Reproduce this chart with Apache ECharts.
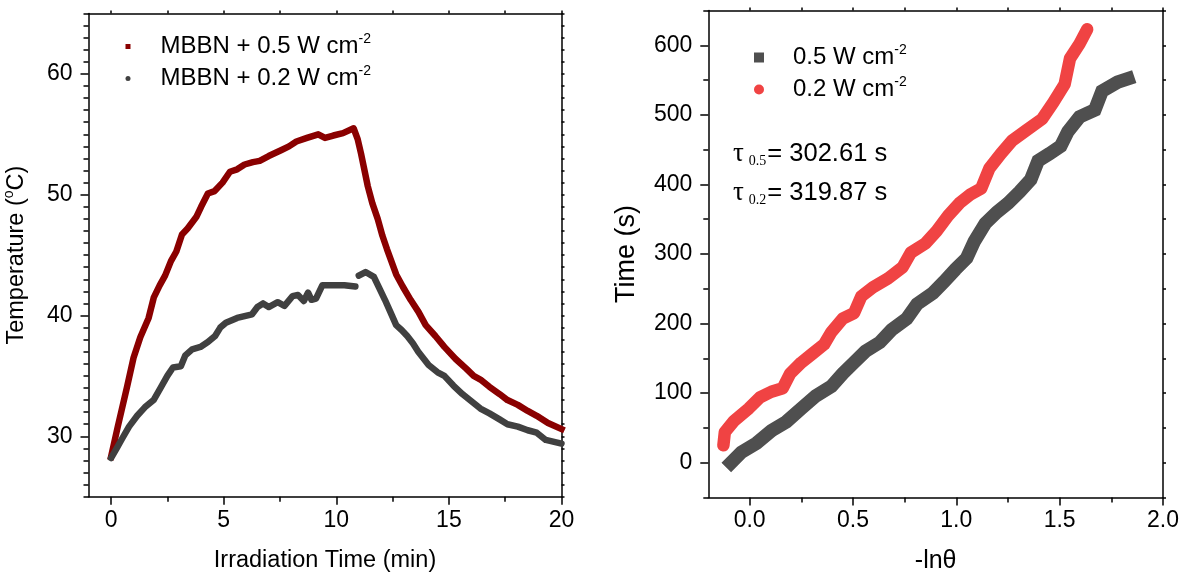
<!DOCTYPE html>
<html><head><meta charset="utf-8">
<script src="https://cdn.jsdelivr.net/npm/echarts@6/dist/echarts.min.js"></script>
<style>html,body{margin:0;padding:0;background:#fff}#c{width:1180px;height:572px}</style>
</head><body><div id="c"></div>
<script>
const FONT = '"Liberation Sans", Arial, sans-serif';
const SERIF = '"Liberation Serif", "Times New Roman", serif';

// ---- tick labels / tick positions ----
const leftXLabels = [0, 5, 10, 15, 20];
const leftXMinor = [2.5, 7.5, 12.5, 17.5];
const leftYLabels = [30, 40, 50, 60];
const rightXLabels = [0, 0.5, 1, 1.5, 2];
const rightXMinor = [0.25, 0.75, 1.25, 1.75];
const rightYLabels = [0, 100, 200, 300, 400, 500, 600];
const rightYMinor = [-50, 50, 150, 250, 350, 450, 550, 650];

// ---- legend names ----
const leftNames = ['MBBN + 0.5 W cm-2', 'MBBN + 0.2 W cm-2'];
const rightNames = ['0.5 W cm-2', '0.2 W cm-2'];

// ---- left panel: temperature (°C) vs irradiation time (min) ----
const heat05 = [[0,28.3],[0.3,30.8],[0.7,34],[1.0,36.5],[1.3,38.2],[1.67,39.8],[1.9,41.5],[2.16,42.5],[2.4,43.3],[2.66,44.5],[2.9,45.3],[3.15,46.7],[3.4,47.2],[3.8,48.2],[4.0,49.0],[4.3,50.1],[4.6,50.3],[4.95,51.0],[5.28,51.9],[5.6,52.1],[5.93,52.5],[6.3,52.7],[6.6,52.8],[7.0,53.2],[7.57,53.7],[7.9,54.0],[8.23,54.4],[8.7,54.7],[9.2,55.0],[9.5,54.7],[9.87,54.9],[10.3,55.1],[10.77,55.5],[10.95,54.6],[11.1,53.4],[11.4,50.7],[11.6,49.3],[11.84,48.0],[12.05,46.6],[12.25,45.5],[12.66,43.4],[12.95,42.4],[13.3,41.3],[13.65,40.3],[13.97,39.2],[14.4,38.3],[14.8,37.4],[15.3,36.4],[15.77,35.6],[16.1,35.0],[16.4,34.7],[16.8,34.1],[17.25,33.5],[17.6,33.0],[18.06,32.6],[18.5,32.1],[18.9,31.7],[19.4,31.1],[20,30.6]];
const heat02 = [[0,28.2],[0.25,29.0],[0.49,29.8],[0.8,30.8],[1.16,31.7],[1.5,32.4],[1.89,33.0],[2.2,34.0],[2.5,35.0],[2.75,35.7],[3.1,35.8],[3.3,36.7],[3.6,37.2],[3.97,37.4],[4.3,37.8],[4.62,38.3],[4.85,39.0],[5.1,39.4],[5.6,39.8],[6.26,40.1],[6.5,40.7],[6.75,41.0],[7.0,40.7],[7.4,41.1],[7.7,40.8],[8.06,41.6],[8.3,41.7],[8.56,41.2],[8.75,41.9],[8.9,41.3],[9.1,41.4],[9.38,42.5],[9.8,42.5],[10.36,42.5],[10.85,42.4],[10.92,null],[11.0,43.3],[11.3,43.6],[11.67,43.2],[11.9,42.3],[12.16,41.3],[12.4,40.3],[12.66,39.2],[12.9,38.8],[13.15,38.3],[13.4,37.7],[13.64,37.0],[14.1,35.9],[14.5,35.3],[14.8,35.0],[15.2,34.2],[15.6,33.5],[16.0,32.9],[16.4,32.3],[16.8,31.9],[17.25,31.4],[17.6,31.0],[18.06,30.8],[18.5,30.5],[18.9,30.3],[19.3,29.7],[20,29.4]];

// ---- right panel: time (s) vs -ln(theta) ----
const cool05 = [[-0.09,0],[-0.04,15],[0.033,28],[0.105,46],[0.178,59],[0.25,78],[0.32,96],[0.396,110],[0.45,128],[0.505,144],[0.56,160],[0.63,173],[0.687,191],[0.76,207],[0.81,228],[0.887,244],[0.94,260],[0.996,278],[1.05,294],[1.087,318],[1.14,344],[1.196,360],[1.25,373],[1.305,389],[1.36,407],[1.396,434],[1.45,444],[1.505,455],[1.54,476],[1.596,497],[1.67,507],[1.705,534],[1.78,547],[1.83,552]];
const cool02 = [[-0.127,25],[-0.12,44],[-0.076,60],[-0.004,78],[0.05,94],[0.105,102],[0.16,107],[0.196,128],[0.25,144],[0.305,157],[0.36,170],[0.396,188],[0.45,207],[0.505,215],[0.54,239],[0.596,252],[0.67,265],[0.74,281],[0.78,302],[0.85,315],[0.905,333],[0.96,355],[1.015,373],[1.07,386],[1.12,394],[1.16,423],[1.215,444],[1.27,463],[1.34,478],[1.415,494],[1.47,518],[1.524,544],[1.55,581],[1.596,602],[1.633,623]];

const tauTexts = [['0.5', '302.61'], ['0.2', '319.87']];

function range(a, b, s) { const r = []; for (let v = a; v <= b + 1e-9; v += s) r.push(+v.toFixed(4)); return r; }
const leftYMinor = range(25, 65, 1).filter(v => v % 10 !== 0);

const BLACK = '#000';
const lineS = { color: BLACK, width: 1.5 };

function mainAxis(dim, grid, min, max, labels, fmt, name, nameGap, nameStyle) {
  return {
    type: 'value', gridIndex: grid, min: min, max: max,
    position: dim === 'x' ? 'bottom' : 'left',
    axisLine: { show: true, onZero: false, lineStyle: lineS },
    axisTick: { show: true, inside: false, length: 8, customValues: labels, lineStyle: lineS },
    axisLabel: { show: true, customValues: labels, formatter: fmt, margin: dim === 'x' ? 12 : 16,
      color: BLACK, fontSize: 23, fontFamily: FONT },
    splitLine: { show: false },
    name: name, nameLocation: 'middle', nameGap: nameGap, nameTextStyle: nameStyle
  };
}
function mirrorAxis(dim, grid, min, max, ticks) {
  return {
    type: 'value', gridIndex: grid, min: min, max: max,
    position: dim === 'x' ? 'top' : 'right',
    axisLine: { show: true, onZero: false, lineStyle: lineS },
    axisTick: { show: true, inside: false, length: 3, customValues: ticks, lineStyle: lineS },
    axisLabel: { show: false }, splitLine: { show: false }
  };
}
function minorAxis(dim, grid, min, max, ticks) {
  return {
    type: 'value', gridIndex: grid, min: min, max: max,
    position: dim === 'x' ? 'bottom' : 'left',
    axisLine: { show: false, onZero: false },
    axisTick: { show: true, inside: false, length: 5, customValues: ticks, lineStyle: lineS },
    axisLabel: { show: false }, splitLine: { show: false }
  };
}

const LG = { left: 88.5, top: 13.5, width: 473, height: 483.2 };
const RG = { left: 708.3, top: 10.5, width: 454.7, height: 487 };
function g(r) { return Object.assign({ show: false, containLabel: false, outerBoundsMode: 'none' }, r); }

const nameSans = (size) => ({ color: BLACK, fontSize: size, fontFamily: FONT });

const legendRich = (pad) => ({
  t: { fontSize: 24, fontFamily: FONT, color: BLACK, lineHeight: 28, padding: [0, 0, 0, pad] },
  s: { fontSize: 14, fontFamily: FONT, color: BLACK, lineHeight: 14, verticalAlign: 'top' }
});
const legendFmt = (name) => { const i = name.lastIndexOf('-2'); return '{t|' + name.slice(0, i) + '}{s|-2}'; };

const tauRich = {
  tau: { fontSize: 27, fontFamily: SERIF, color: BLACK, lineHeight: 30 },
  sub: { fontSize: 14, fontFamily: SERIF, color: BLACK, lineHeight: 14, verticalAlign: 'bottom', padding: [0, 1, 0, 5] },
  eq: { fontSize: 25.5, fontFamily: FONT, color: BLACK, lineHeight: 30 }
};

const option = {
  animation: false,
  backgroundColor: '#fff',
  grid: [g(LG), g(LG), g(RG), g(RG)],
  xAxis: [
    mainAxis('x', 0, -1, 20, leftXLabels, v => String(v), 'Irradiation Time (min)', 52, nameSans(23.5)),
    mirrorAxis('x', 0, -1, 20, leftXLabels.concat(leftXMinor)),
    minorAxis('x', 1, -1, 20, leftXMinor),
    mainAxis('x', 2, -0.2, 2.0, rightXLabels, v => v.toFixed(1), '-ln\u03b8', 51, nameSans(25)),
    mirrorAxis('x', 2, -0.2, 2.0, rightXLabels.concat(rightXMinor)),
    minorAxis('x', 3, -0.2, 2.0, rightXMinor)
  ],
  yAxis: [
    mainAxis('y', 0, 25, 65, leftYLabels, v => String(v), '{a|Temperature (}{s|o}{a|C)}', 58,
      { rich: { a: { fontSize: 23.5, fontFamily: FONT, color: BLACK, lineHeight: 28 },
                s: { fontSize: 14, fontFamily: FONT, color: BLACK, lineHeight: 14, verticalAlign: 'top' } } }),
    mirrorAxis('y', 0, 25, 65, leftYLabels.concat(leftYMinor)),
    minorAxis('y', 1, 25, 65, leftYMinor),
    mainAxis('y', 2, -50, 650, rightYLabels, v => String(v), 'Time (s)', 68, nameSans(27)),
    mirrorAxis('y', 2, -50, 650, rightYLabels.concat(rightYMinor)),
    minorAxis('y', 3, -50, 650, rightYMinor)
  ],
  legend: [
    { data: [{ name: leftNames[0], icon: 'rect' }, { name: leftNames[1], icon: 'circle' }],
      orient: 'vertical', left: 125.5, top: 32.5, itemWidth: 5, itemHeight: 5, itemGap: 6, padding: 0,
      formatter: legendFmt, textStyle: { rich: legendRich(25) }, selectedMode: false },
    { data: [{ name: rightNames[0], icon: 'rect' }, { name: rightNames[1], icon: 'circle' }],
      orient: 'vertical', left: 754, top: 43.5, itemWidth: 10, itemHeight: 10, itemGap: 6, padding: 0,
      formatter: legendFmt, textStyle: { rich: legendRich(24) }, selectedMode: false }
  ],
  graphic: tauTexts.map((t, i) => ({
    type: 'text', left: 733, top: 140 + i * 39, z: 100,
    style: { text: '{tau|\u03c4}{sub|' + t[0] + '}{eq|= ' + t[1] + ' s}', rich: tauRich, fill: BLACK }
  })),
  series: [
    { name: leftNames[0], type: 'line', xAxisIndex: 0, yAxisIndex: 0, data: heat05, showSymbol: false, symbol: 'none',
      itemStyle: { color: '#8a0000' }, lineStyle: { color: '#8a0000', width: 6.5, join: 'round', cap: 'square' }, connectNulls: false },
    { name: leftNames[1], type: 'line', xAxisIndex: 0, yAxisIndex: 0, data: heat02, showSymbol: false, symbol: 'none',
      itemStyle: { color: '#404040' }, lineStyle: { color: '#404040', width: 6.5, join: 'round', cap: 'round' }, connectNulls: false },
    { name: rightNames[0], type: 'line', xAxisIndex: 3, yAxisIndex: 3, data: cool05, showSymbol: false, symbol: 'none',
      itemStyle: { color: '#4f4f4f' }, lineStyle: { color: '#4f4f4f', width: 13.5, join: 'miter', cap: 'square' } },
    { name: rightNames[1], type: 'line', xAxisIndex: 3, yAxisIndex: 3, data: cool02, showSymbol: false, symbol: 'none',
      itemStyle: { color: '#f04343' }, lineStyle: { color: '#f04343', width: 12.5, join: 'round', cap: 'round' } }
  ]
};

const chart = echarts.init(document.getElementById('c'), null, { renderer: 'canvas' });
chart.setOption(option);
</script>
</body></html>
